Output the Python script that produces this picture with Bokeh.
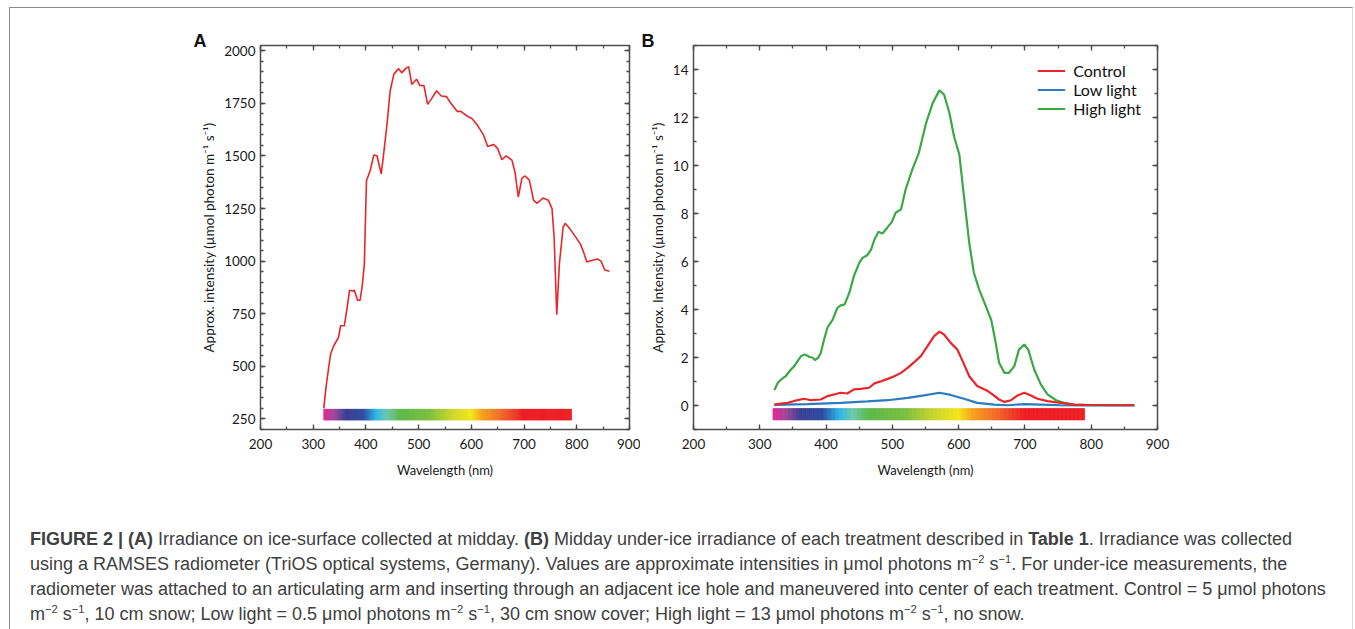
import numpy as np
from bokeh.plotting import figure
from bokeh.models import LinearAxis, FixedTicker, Div, Range1d, CustomLabelingPolicy
from bokeh.layouts import row, column
from bokeh.embed import file_html
from bokeh.resources import INLINE

# ---------------- data ----------------
# Panel A: surface irradiance
wl_a = [320, 325, 333, 339, 348, 352, 359, 364, 369, 375, 378, 384, 389, 393, 397,
        401, 408, 415, 421, 429, 434, 440, 446, 453, 462, 468, 475, 481, 487, 496,
        502, 510, 517, 524, 534, 543, 553, 560, 573, 580, 592, 601, 611, 623, 631,
        642, 650, 658, 666, 677, 683, 689, 696, 702, 710, 718, 724, 736, 746, 753,
        757, 762, 767, 774, 778, 788, 797, 807, 813, 819, 826, 839, 846, 853, 862]
irr_a = [300, 416, 559, 598, 638, 693, 693, 773, 862, 858, 862, 815, 815, 884, 986,
         1382, 1430, 1505, 1501, 1415, 1517, 1651, 1810, 1889, 1915, 1895, 1915, 1925, 1840, 1865,
         1835, 1835, 1745, 1770, 1810, 1785, 1782, 1754, 1712, 1712, 1690, 1678, 1648, 1600, 1545,
         1555, 1535, 1482, 1500, 1480, 1420, 1305, 1395, 1405, 1385, 1290, 1275, 1300, 1290, 1250,
         1113, 745, 987, 1161, 1180, 1150, 1118, 1081, 1042, 996, 1002, 1010, 1000, 958, 952]

# Panel B: under-ice irradiance per treatment
wl_high = [322, 327, 332, 339, 347, 352, 357, 362, 368, 375, 380, 383, 388, 392, 397,
           402, 410, 417, 422, 428, 435, 442, 450, 455, 462, 468, 473, 479, 485, 493,
           499, 505, 513, 520, 530, 540, 551, 561, 571, 578, 586, 593, 601, 608, 616,
           623, 631, 641, 649, 655, 661, 669, 676, 684, 691, 699, 705, 714, 724, 734,
           747, 759, 774, 789, 820, 865]
high = [0.64, 0.94, 1.08, 1.22, 1.5, 1.64, 1.85, 2.05, 2.13, 2.02, 1.99, 1.89, 1.99, 2.19, 2.75,
        3.24, 3.58, 4.07, 4.17, 4.21, 4.69, 5.39, 5.94, 6.15, 6.26, 6.5, 6.92, 7.24, 7.17, 7.43,
        7.64, 8.03, 8.17, 9.0, 9.83, 10.53, 11.78, 12.61, 13.13, 12.96, 12.2, 11.22, 10.46, 8.72, 6.78,
        5.53, 4.83, 4.14, 3.58, 2.75, 1.78, 1.36, 1.36, 1.64, 2.33, 2.54, 2.33, 1.5, 0.88, 0.46,
        0.22, 0.11, 0.04, 0.03, 0.02, 0.02]

wl_ctrl = [322, 332, 342, 352, 367, 377, 392, 402, 412, 422, 432, 442, 452, 465, 473,
           483, 493, 503, 513, 523, 533, 543, 553, 563, 571, 578, 588, 598, 606, 616,
           628, 644, 651, 661, 669, 679, 689, 699, 709, 719, 734, 754, 774, 799, 835, 865]
ctrl = [0.04, 0.08, 0.11, 0.19, 0.28, 0.22, 0.25, 0.39, 0.46, 0.53, 0.5, 0.67, 0.69, 0.74, 0.92,
        1.01, 1.11, 1.22, 1.36, 1.57, 1.81, 2.06, 2.47, 2.89, 3.08, 2.96, 2.61, 2.33, 1.85, 1.22,
        0.81, 0.6, 0.46, 0.25, 0.15, 0.22, 0.42, 0.53, 0.42, 0.28, 0.18, 0.11, 0.04, 0.02, 0.01, 0.01]

wl_low = [322, 372, 422, 462, 493, 523, 548, 571, 588, 608, 628, 654, 674, 699, 724, 754, 789, 865]
low = [0.03, 0.06, 0.11, 0.17, 0.22, 0.32, 0.42, 0.53, 0.44, 0.28, 0.11, 0.04, 0.01, 0.06, 0.04, 0.01, 0.0, 0.0]

series_names = ["Control", "Low light", "High light"]
series_colors = ["#e8262a", "#2b7bbf", "#3aa845"]

x_ticks = [200, 300, 400, 500, 600, 700, 800, 900]
ya_ticks = [250, 500, 750, 1000, 1250, 1500, 1750, 2000]
yb_ticks = [0, 2, 4, 6, 8, 10, 12, 14]

# visible-spectrum colour bar (wavelength stops and colours)
spec_nm = [320, 340, 362, 395, 420, 440, 465, 520, 560, 600, 620, 660, 700, 790]
spec_col = ["#e9268f", "#a0479a", "#3b3f94", "#2f4aa0", "#2bb6e8", "#6ec8b0", "#5db947",
            "#7bbf42", "#c6d52e", "#f4e71c", "#f7a51c", "#f2652a", "#ed1c24", "#ed2024"]
bar_a = (245, 296)
bar_b = (-0.6, -0.13)

# ---------------- helpers ----------------
FONT = "Lato"
AX_COL = "#4d4d4d"
HIDE = CustomLabelingPolicy(code="""
const arr = Array.from(indices)
for (const i of arr) indices.unset(i)
return indices
""")


def spectrum_quads(p, bottom, top):
    edges = np.arange(spec_nm[0], spec_nm[-1] + 1, 2.0)
    mids = (edges[:-1] + edges[1:]) / 2
    rgb = np.array([[int(c[i:i + 2], 16) for i in (1, 3, 5)] for c in spec_col], dtype=float)
    cols = []
    for m in mids:
        r = np.interp(m, spec_nm, rgb[:, 0])
        g = np.interp(m, spec_nm, rgb[:, 1])
        b = np.interp(m, spec_nm, rgb[:, 2])
        cols.append("#%02x%02x%02x" % (int(r), int(g), int(b)))
    p.quad(left=edges[:-1], right=edges[1:], bottom=bottom, top=top,
           fill_color=cols, line_color=cols, line_width=0.8)


def style_axes(p, xticks, xminor, yticks, yminor, ylabel):
    bx = p.xaxis[0]
    ly = p.yaxis[0]
    bx.ticker = FixedTicker(ticks=xticks, minor_ticks=xminor)
    ly.ticker = FixedTicker(ticks=yticks, minor_ticks=yminor)
    bx.axis_label = "Wavelength (nm)"
    ly.axis_label = ylabel
    top_ax = LinearAxis(ticker=FixedTicker(ticks=xticks, minor_ticks=xminor))
    right_ax = LinearAxis(ticker=FixedTicker(ticks=yticks, minor_ticks=yminor))
    p.add_layout(top_ax, "above")
    p.add_layout(right_ax, "right")
    for ax in [bx, ly, top_ax, right_ax]:
        ax.axis_line_color = AX_COL
        ax.axis_line_width = 1.5
        ax.major_tick_line_color = AX_COL
        ax.minor_tick_line_color = AX_COL
        ax.major_tick_line_width = 1.3
        ax.minor_tick_line_width = 1.3
        ax.major_tick_in = 5
        ax.major_tick_out = 0
        ax.minor_tick_in = 3
        ax.minor_tick_out = 0
        ax.major_label_text_font = FONT
        ax.major_label_text_font_size = "13.5px"
        ax.major_label_text_color = "#1a1a1a"
        ax.axis_label_text_font = FONT
        ax.axis_label_text_font_size = "13px"
        ax.axis_label_text_font_style = "normal"
        ax.axis_label_text_color = "#1a1a1a"
    for ax in [top_ax, right_ax]:
        ax.major_label_text_font_size = "0px"
        ax.major_label_text_color = None
        ax.major_label_policy = HIDE
        ax.major_label_standoff = 0
    ly.axis_label_text_font_size = "13.5px"
    bx.major_label_standoff = 9
    bx.axis_label_standoff = 10
    ly.major_label_standoff = 5
    ly.axis_label_standoff = 4
    p.outline_line_color = AX_COL
    p.xgrid.visible = False
    p.ygrid.visible = False


def panel_label(p, txt, dx):
    p.title.text = txt
    p.title.align = "left"
    p.title.offset = dx
    p.title.standoff = -11
    p.title.text_font = "Liberation Sans"
    p.title.text_font_style = "bold"
    p.title.text_font_size = "18px"
    p.title.text_color = "#111111"


# ---------------- panel A ----------------
pA = figure(width=630, height=481, output_backend="svg", toolbar_location=None,
            x_range=Range1d(200, 900), y_range=Range1d(200, 2025),
            min_border_left=250, min_border_right=11, min_border_top=37, min_border_bottom=60)
spectrum_quads(pA, bar_a[0], bar_a[1])
pA.line(wl_a, irr_a, line_color=series_colors[0], line_width=1.6)
style_axes(pA, x_ticks, list(range(200, 901, 50)), ya_ticks, list(range(200, 2026, 50)),
           "Approx. intensity (\u00b5mol photon m\u207b\u00b9 s\u207b\u00b9)")
panel_label(pA, "A", -67)

# ---------------- panel B ----------------
pB = figure(width=700, height=481, output_backend="svg", toolbar_location=None,
            x_range=Range1d(200, 900), y_range=Range1d(-1, 15),
            min_border_left=53, min_border_right=183, min_border_top=37, min_border_bottom=60)
spectrum_quads(pB, bar_b[0], bar_b[1])
for wl, vals, name, col in [(wl_high, high, series_names[2], series_colors[2]),
                            (wl_low, low, series_names[1], series_colors[1]),
                            (wl_ctrl, ctrl, series_names[0], series_colors[0])]:
    pB.line(wl, vals, line_color=col, line_width=2.2, legend_label=name)
style_axes(pB, x_ticks, list(range(200, 901, 50)), yb_ticks, list(range(-1, 16, 1)),
           "Approx. Intensity (\u00b5mol photon m\u207b\u00b9 s\u207b\u00b9)")
panel_label(pB, "B", -52)

lg = pB.legend[0]
items = {it.label.value: it for it in lg.items}
lg.items = [items[n] for n in series_names]
lg.location = "top_right"
lg.margin = 16
lg.padding = 0
lg.spacing = -2
lg.border_line_color = None
lg.background_fill_alpha = 0
lg.label_text_font = FONT
lg.label_text_font_size = "16px"
lg.label_text_color = "#111111"
lg.glyph_width = 28
lg.glyph_height = 15
lg.label_height = 15
lg.label_standoff = 8

# ---------------- caption ----------------
sup = '<sup style="font-size:0.62em;line-height:0;">{}</sup>'
u = "m" + sup.format("\u22122") + " s" + sup.format("\u22121")
caption = (
    '<b>FIGURE 2 | (A)</b> Irradiance on ice-surface collected at midday. <b>(B)</b> Midday under-ice '
    'irradiance of each treatment described in <b>Table 1</b>. Irradiance was collected<br>'
    'using a RAMSES radiometer (TriOS optical systems, Germany). Values are approximate intensities in '
    '\u03bcmol photons ' + u + '. For under-ice measurements, the<br>'
    'radiometer was attached to an articulating arm and inserting through an adjacent ice hole and '
    'maneuvered into center of each treatment. Control = 5 \u03bcmol photons<br>'
    + u + ', 10 cm snow; Low light = 0.5 \u03bcmol photons ' + u + ', 30 cm snow cover; High light = 13 '
    '\u03bcmol photons ' + u + ', no snow.'
)
cap = Div(text=caption, width=1330, height=135,
          styles={"font-family": "Liberation Sans", "font-size": "18px", "color": "#404040",
                  "line-height": "25px", "white-space": "nowrap", "padding-left": "15px",
                  "padding-top": "33px"})

layout = column(row(pA, pB), cap, margin=(7, 0, 0, 9), width=1344,
                styles={"border-top": "1px solid #8c8c8c", "border-left": "1px solid #8c8c8c",
                        "border-right": "1px solid #dcdcdc"})

open("out.html", "w").write(file_html(layout, INLINE))
